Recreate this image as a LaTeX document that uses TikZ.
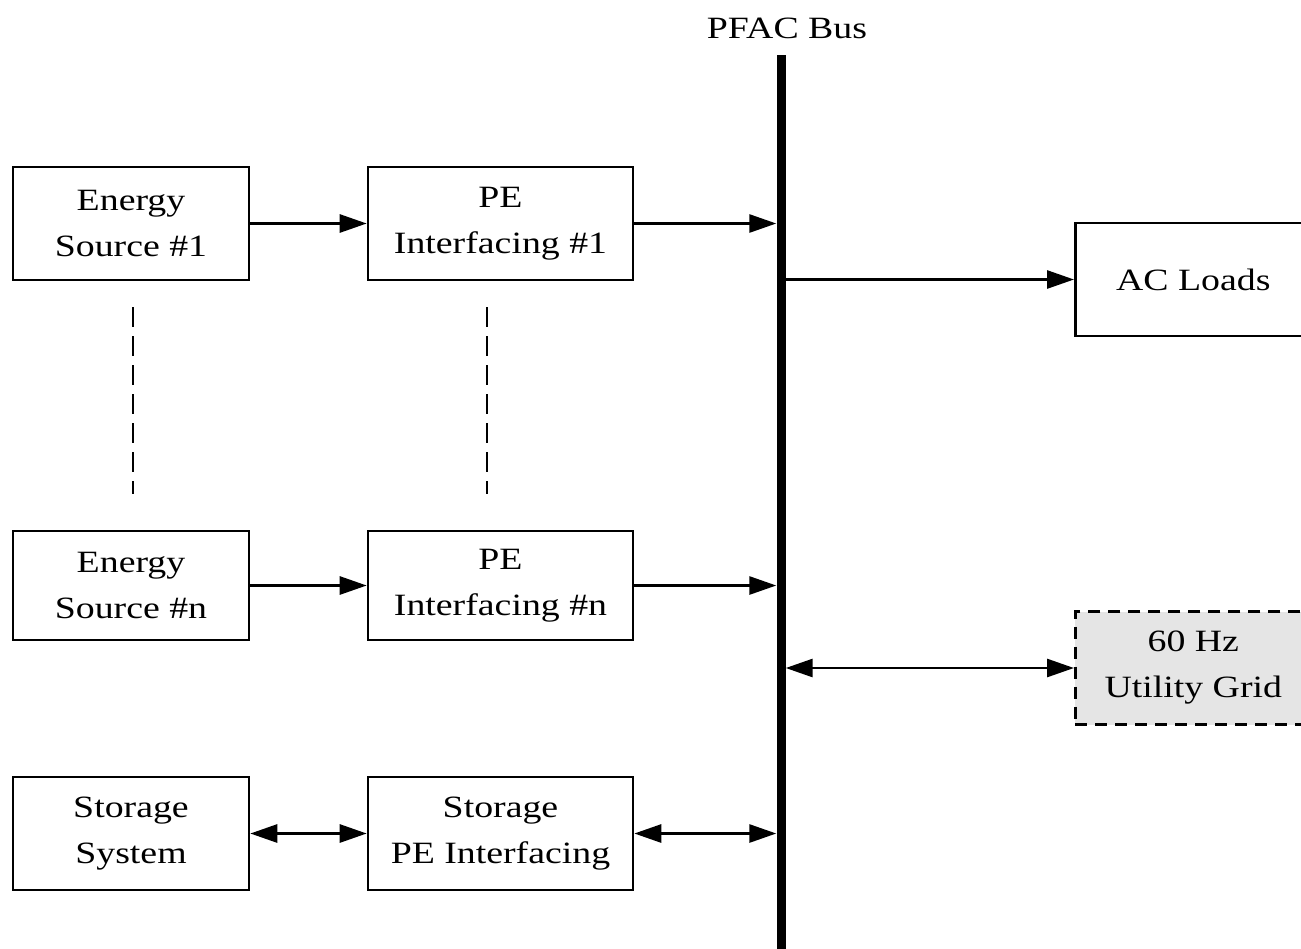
\documentclass[tikz,border=0pt]{standalone}
\usepackage{fontspec}
\setmainfont{Liberation Serif}
\newfontfamily\lblfont[FakeStretch=1.22]{Liberation Serif}
\usetikzlibrary{arrows.meta}
\begin{document}
\begin{tikzpicture}[x=1pt,y=-1pt,
  lbl/.style={font=\lblfont\fontsize{31}{46}\selectfont},
  blk/.style={lbl, draw, line width=2.6pt, minimum width=236pt, minimum height=113pt,
    align=center, inner sep=0pt},
  wideblk/.style={blk, minimum width=265pt},
  conn/.style={line width=2.8pt},
  tip/.style={conn, -{Triangle[length=27pt,width=18pt]}},
  dtip/.style={conn, {Triangle[length=27pt,width=18pt]}-{Triangle[length=27pt,width=18pt]}},
  dashline/.style={line width=2.8pt, dash pattern=on 20pt off 9pt}
]
\useasboundingbox (0,0) rectangle (1301,948);
\clip (0,0) rectangle (1301,948);

% the PFAC bus bar and its label
\node[fill=black, minimum width=9pt, minimum height=900pt, inner sep=0pt] (bus) at (781,505) {};
\node[lbl] (buslbl) at (787,28) {PFAC Bus};

% sources, converters and storage
\node[blk] (es1) at (131,223.5) {Energy\\Source \#1};
\node[wideblk] (pe1) at (500.5,223.5) {PE\\Interfacing \#1};
\node[blk, minimum height=109pt] (esn) at (131,585.5) {Energy\\Source \#n};
\node[wideblk, minimum height=109pt] (pen) at (500.5,585.5) {PE\\Interfacing \#n};
\node[blk] (sto) at (131,833.5) {Storage\\System};
\node[wideblk] (stope) at (500.5,833.5) {Storage\\PE Interfacing};

% loads and grid
\node[blk, anchor=west] (ac) at (1074,279.5) {AC Loads};
\node[blk, anchor=west, dashed, dash pattern=on 12pt off 8pt, fill=black!10] (grid) at (1074,668) {60 Hz\\Utility Grid};

% power flow
\draw[tip] (es1.east) -- (pe1.west);
\draw[tip] (pe1.east) -- (pe1.east -| bus.west);
\draw[tip] (esn.east) -- (pen.west);
\draw[tip] (pen.east) -- (pen.east -| bus.west);
\draw[dtip] (sto.east) -- (stope.west);
\draw[dtip] (stope.east) -- (stope.east -| bus.west);
\draw[tip] (ac.west -| bus.east) -- (ac.west);
\draw[dtip] (grid.west -| bus.east) -- (grid.west);

% "more sources" ellipsis
\draw[dashline] ([xshift=2pt,yshift=-26pt]es1.south) -- ([xshift=2pt,yshift=36pt]esn.north);
\draw[dashline] ([xshift=-13.5pt,yshift=-26pt]pe1.south) -- ([xshift=-13.5pt,yshift=36pt]pen.north);
\end{tikzpicture}
\end{document}
